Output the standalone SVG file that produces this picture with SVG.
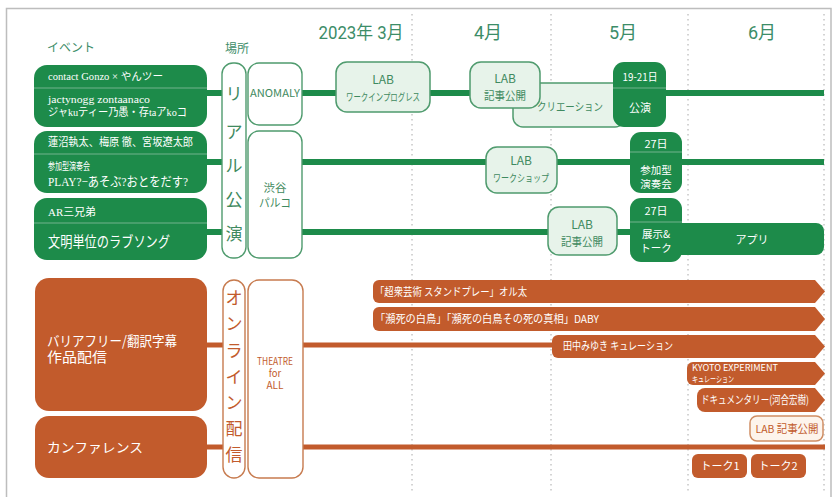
<svg xmlns="http://www.w3.org/2000/svg" width="835" height="497" viewBox="0 0 835 497">
<style>
.frame{fill:#fff;stroke:#bdbdbd;stroke-width:1.5}
.dot{stroke:#a8a8a8;stroke-width:1;stroke-dasharray:1.5 3.5}
.month{font-family:Roboto,"Noto Sans CJK JP",sans-serif;font-size:18px;fill:#3c8d68;text-anchor:middle}
.head{font-family:"Noto Sans CJK JP",sans-serif;font-size:12px;fill:#3c8d68}
.gl{stroke:#1d8b4a;stroke-width:6;fill:none}
.ol{stroke:#c25b2c;stroke-width:5;fill:none}
.gbox{fill:#1d8b4a}
.gdiv{stroke:#72b38d;stroke-width:1}
.lbox{fill:#e7f3ea;stroke:#4f9b6e;stroke-width:1.5}
.gcol{fill:#fff;stroke:#4f9b6e;stroke-width:1.4}
.ocol{fill:#fff;stroke:#c77b4f;stroke-width:1.4}
.obox{fill:#c25b2c}
.olbox{fill:#fdf4ec;stroke:#cf8d63;stroke-width:1.5}
.ser{font-family:"Liberation Serif","Noto Sans CJK JP",serif;fill:#fff}
.wt{font-family:"Noto Sans CJK JP",sans-serif;fill:#fff}
.gt{font-family:"Noto Sans CJK JP",sans-serif;fill:#3f8a60}
.ot{font-family:"Noto Sans CJK JP",sans-serif;fill:#c25b2c}
.c{text-anchor:middle}
.vg{font-family:"Noto Sans CJK JP",sans-serif;font-size:17px;fill:#3f8a60;text-anchor:middle}
.vo{font-family:"Noto Sans CJK JP",sans-serif;font-size:17px;fill:#c25b2c;text-anchor:middle}
</style>
<rect class="frame" x="6.5" y="8.5" width="824.5" height="500"/>
<g id="gridlines">
<line class="dot" x1="412" y1="14" x2="412" y2="492"/>
<line class="dot" x1="551" y1="14" x2="551" y2="492"/>
<line class="dot" x1="688" y1="14" x2="688" y2="492"/>
<line class="dot" x1="824" y1="14" x2="824" y2="492"/>
</g>
<g id="headers">
<text class="month" x="361" y="39" textLength="85" lengthAdjust="spacingAndGlyphs">2023年 3月</text>
<text class="month" x="488" y="39">4月</text>
<text class="month" x="623" y="39">5月</text>
<text class="month" x="762" y="39">6月</text>
<text class="head" x="47" y="52">イベント</text>
<text class="head" x="225" y="53">場所</text>
</g>
<g id="connectors">
<line class="gl" x1="205" y1="93" x2="223" y2="93"/>
<line class="gl" x1="301" y1="93" x2="824" y2="93"/>
<line class="gl" x1="205" y1="162" x2="223" y2="162"/>
<line class="gl" x1="301" y1="162" x2="824" y2="162"/>
<line class="gl" x1="205" y1="232" x2="223" y2="232"/>
<line class="gl" x1="301" y1="232" x2="680" y2="232"/>
<line class="ol" x1="205" y1="345" x2="224" y2="345"/>
<line class="ol" x1="302" y1="345" x2="560" y2="345"/>
<line class="ol" x1="205" y1="447" x2="224" y2="447"/>
<line class="ol" x1="302" y1="447" x2="825" y2="447"/>
</g>
<g id="ev-gonzo">
<rect class="gbox" x="34" y="65" width="173" height="62" rx="13"/>
<line class="gdiv" x1="34" y1="88" x2="207" y2="88"/>
<text class="ser" x="48" y="80" font-size="10.5" textLength="115" lengthAdjust="spacingAndGlyphs">contact Gonzo × やんツー</text>
<text class="ser" x="48" y="103" font-size="11" textLength="102" lengthAdjust="spacingAndGlyphs">jactynogg zontaanaco</text>
<text class="ser" x="48" y="116" font-size="11" textLength="139" lengthAdjust="spacingAndGlyphs">ジャkuティー乃愚・存taアkoコ</text>
</g>
<g id="ev-play">
<rect class="gbox" x="34" y="131" width="173" height="62" rx="13"/>
<line class="gdiv" x1="34" y1="154" x2="207" y2="154"/>
<text class="ser" x="48" y="146" font-size="11" textLength="145" lengthAdjust="spacingAndGlyphs">蓮沼執太、梅原 徹、宮坂遼太郎</text>
<text class="ser" x="48" y="170" font-size="10" textLength="42" lengthAdjust="spacingAndGlyphs">参加型演奏会</text>
<text class="ser" x="48" y="186" font-size="13" textLength="140" lengthAdjust="spacingAndGlyphs">PLAY?−あそぶ?おとをだす?</text>
</g>
<g id="ev-ar">
<rect class="gbox" x="34" y="198" width="173" height="62" rx="13"/>
<line class="gdiv" x1="34" y1="223" x2="207" y2="223"/>
<text class="ser" x="48" y="216" font-size="11" textLength="48" lengthAdjust="spacingAndGlyphs">AR三兄弟</text>
<text class="ser" x="48" y="247" font-size="15" textLength="122" lengthAdjust="spacingAndGlyphs">文明単位のラブソング</text>
</g>
<g id="col-real">
<rect class="gcol" x="222" y="63" width="24" height="195" rx="11"/>
<text class="vg" x="234" y="100">リ</text>
<text class="vg" x="234" y="138">ア</text>
<text class="vg" x="234" y="172">ル</text>
<text class="vg" x="234" y="206">公</text>
<text class="vg" x="234" y="240">演</text>
</g>
<g id="pl-anomaly">
<rect class="gcol" x="248" y="63" width="54" height="62" rx="11"/>
<text class="gt c" x="275" y="97" font-size="11" textLength="50" lengthAdjust="spacingAndGlyphs">ANOMALY</text>
</g>
<g id="pl-parco">
<rect class="gcol" x="248" y="131" width="54" height="127" rx="11"/>
<text class="gt c" x="275" y="192" font-size="11.5">渋谷</text>
<text class="gt c" x="275" y="207" font-size="11.5" textLength="32" lengthAdjust="spacingAndGlyphs">パルコ</text>
</g>
<g id="lab-wip">
<rect class="lbox" x="336" y="62" width="94" height="50" rx="11"/>
<text class="gt c" x="383" y="84" font-size="12">LAB</text>
<text class="gt c" x="383" y="101" font-size="10.5" textLength="74" lengthAdjust="spacingAndGlyphs">ワークインプログレス</text>
</g>
<g id="creation">
<rect class="lbox" x="513" y="83" width="112" height="44" rx="10"/>
<text class="gt c" x="570" y="111" font-size="11" textLength="66" lengthAdjust="spacingAndGlyphs">クリエーション</text>
</g>
<g id="lab-article1">
<rect class="lbox" x="470" y="62" width="70" height="46" rx="11"/>
<text class="gt c" x="505" y="83" font-size="12">LAB</text>
<text class="gt c" x="505" y="100" font-size="11.5" textLength="42" lengthAdjust="spacingAndGlyphs">記事公開</text>
</g>
<g id="perf-1921">
<rect class="gbox" x="613" y="62" width="53" height="65" rx="11"/>
<line class="gdiv" x1="613" y1="88" x2="666" y2="88"/>
<text class="wt c" x="640" y="81" font-size="11" textLength="35" lengthAdjust="spacingAndGlyphs">19-21日</text>
<text class="wt c" x="640" y="112" font-size="11">公演</text>
</g>
<g id="lab-ws">
<rect class="lbox" x="486" y="147" width="71" height="46" rx="11"/>
<text class="gt c" x="521" y="165" font-size="12">LAB</text>
<text class="gt c" x="521" y="182" font-size="10.5" textLength="56" lengthAdjust="spacingAndGlyphs">ワークショップ</text>
</g>
<g id="perf-27a">
<rect class="gbox" x="630" y="132" width="52" height="61" rx="11"/>
<line class="gdiv" x1="630" y1="152" x2="682" y2="152"/>
<text class="wt c" x="656" y="148" font-size="11">27日</text>
<text class="wt c" x="656" y="174" font-size="10.5">参加型</text>
<text class="wt c" x="656" y="188" font-size="10.5">演奏会</text>
</g>
<g id="lab-article3">
<rect class="lbox" x="548" y="207" width="69" height="48" rx="11"/>
<text class="gt c" x="582" y="229" font-size="12">LAB</text>
<text class="gt c" x="582" y="246" font-size="11.5" textLength="42" lengthAdjust="spacingAndGlyphs">記事公開</text>
</g>
<g id="app">
<rect class="gbox" x="670" y="223" width="154" height="32" rx="8"/>
<text class="wt c" x="752" y="244" font-size="11">アプリ</text>
</g>
<g id="perf-27b">
<rect class="gbox" x="630" y="198" width="52" height="64" rx="11"/>
<line class="gdiv" x1="630" y1="222" x2="682" y2="222"/>
<text class="wt c" x="656" y="215" font-size="11">27日</text>
<text class="wt c" x="656" y="238" font-size="10.5">展示&amp;</text>
<text class="wt c" x="656" y="252" font-size="10.5">トーク</text>
</g>
<g id="ev-barrierfree">
<rect class="obox" x="35" y="278" width="172" height="133" rx="14"/>
<text class="wt" x="47" y="346" font-size="14" textLength="130" lengthAdjust="spacingAndGlyphs">バリアフリー/翻訳字幕</text>
<text class="wt" x="47" y="362" font-size="14" textLength="60" lengthAdjust="spacingAndGlyphs">作品配信</text>
</g>
<g id="ev-conference">
<rect class="obox" x="35" y="416" width="172" height="62" rx="14"/>
<text class="wt" x="47" y="452" font-size="13" textLength="96" lengthAdjust="spacingAndGlyphs">カンファレンス</text>
</g>
<g id="col-online">
<rect class="ocol" x="223" y="280" width="22" height="198" rx="11"/>
<text class="vo" x="234" y="304">オ</text>
<text class="vo" x="234" y="330">ン</text>
<text class="vo" x="234" y="357">ラ</text>
<text class="vo" x="234" y="383">イ</text>
<text class="vo" x="234" y="409">ン</text>
<text class="vo" x="234" y="435">配</text>
<text class="vo" x="234" y="461">信</text>
</g>
<g id="pl-tfa">
<rect class="ocol" x="248" y="280" width="55" height="198" rx="11"/>
<text class="ot c" x="275" y="365" font-size="10" textLength="36" lengthAdjust="spacingAndGlyphs">THEATRE</text>
<text class="ot c" x="275" y="377" font-size="9.5">for</text>
<text class="ot c" x="275" y="389" font-size="10">ALL</text>
</g>
<g id="arr-oruta">
<path class="obox" d="M379,280 H815 L825,291.5 L815,303 H379 A6,6 0 0 1 373,297 V286 A6,6 0 0 1 379,280 Z"/>
<text class="wt" x="375" y="296" font-size="11" textLength="152" lengthAdjust="spacingAndGlyphs">「超衆芸術 スタンドプレー」オル太</text>
</g>
<g id="arr-daby">
<path class="obox" d="M379,307 H815 L825,319 L815,331 H379 A6,6 0 0 1 373,325 V313 A6,6 0 0 1 379,307 Z"/>
<text class="wt" x="375" y="323" font-size="11" textLength="224" lengthAdjust="spacingAndGlyphs">「瀕死の白鳥」「瀕死の白鳥その死の真相」DABY</text>
</g>
<g id="arr-tanaka">
<path class="obox" d="M558,335 H815 L825,346.5 L815,358 H558 A6,6 0 0 1 552,352 V341 A6,6 0 0 1 558,335 Z"/>
<text class="wt" x="563" y="350" font-size="11" textLength="110" lengthAdjust="spacingAndGlyphs">田中みゆき キュレーション</text>
</g>
<g id="arr-kyoto">
<path class="obox" d="M693,362 H815 L825,373.5 L815,385 H693 A6,6 0 0 1 687,379 V368 A6,6 0 0 1 693,362 Z"/>
<text class="wt" x="692" y="370.5" font-size="8.5" textLength="86" lengthAdjust="spacingAndGlyphs">KYOTO EXPERIMENT</text>
<text class="wt" x="692" y="381.5" font-size="8.5" textLength="42" lengthAdjust="spacingAndGlyphs">キュレーション</text>
</g>
<g id="arr-doc">
<path class="obox" d="M705,388 H815 L825,400 L815,412 H705 A8,8 0 0 1 697,404 V396 A8,8 0 0 1 705,388 Z"/>
<text class="wt" x="701" y="404" font-size="11" textLength="108" lengthAdjust="spacingAndGlyphs">ドキュメンタリー(河合宏樹)</text>
</g>
<g id="lab-article-online">
<rect class="olbox" x="750" y="416" width="73" height="25" rx="7"/>
<text class="ot c" x="787" y="433" font-size="11" textLength="63" lengthAdjust="spacingAndGlyphs">LAB 記事公開</text>
</g>
<g id="talk1">
<rect class="obox" x="692" y="454" width="55" height="24" rx="6"/>
<text class="wt c" x="720" y="470" font-size="11">トーク1</text>
</g>
<g id="talk2">
<rect class="obox" x="751" y="454" width="55" height="24" rx="6"/>
<text class="wt c" x="778" y="470" font-size="11">トーク2</text>
</g>
</svg>
